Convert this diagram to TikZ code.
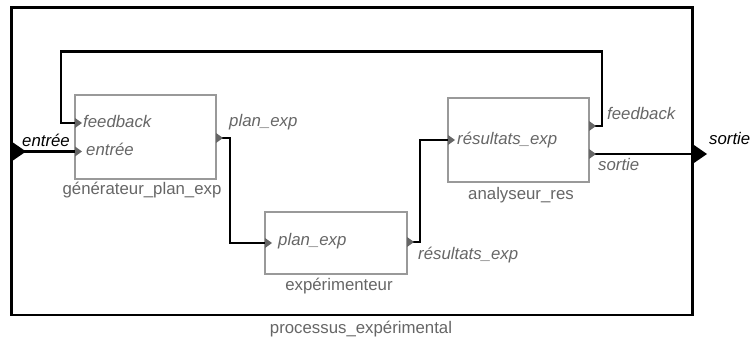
\documentclass[tikz,border=0pt]{standalone}
\usepackage{fontspec}
\setmainfont{Liberation Sans}
\usetikzlibrary{calc}
\definecolor{boxgray}{HTML}{999999}
\definecolor{txtgray}{HTML}{666666}
\begin{document}
\begin{tikzpicture}[x=1pt,y=-1pt,
  blk/.style={draw=boxgray, line width=2.6pt, inner sep=0pt},
  wire/.style={draw=black, line width=2.8pt},
  frame/.style={draw=black, line width=2.5pt},
  plbl/.style={text=txtgray, font=\fontsize{16.8}{20}\selectfont\itshape, inner sep=0pt, anchor=base west},
  blbl/.style={text=txtgray, font=\fontsize{16.8}{20}\selectfont, inner sep=0pt, anchor=base},
  olbl/.style={text=black, font=\fontsize{16.8}{20}\selectfont\itshape, inner sep=0pt},
  porttri/.pic={\fill[txtgray] (0,-5) -- (7,0) -- (0,5) -- cycle;},
  outertri/.pic={\fill[black] (0,-10) -- (14.5,0) -- (0,10) -- cycle;}
]
\useasboundingbox (0,0) rectangle (750,347);

% outer frame
\node[frame, minimum width=681, minimum height=307.5, inner sep=0pt] (proc) at (352,161.25) {};
\node[blbl] (proclbl) at (361,334) {processus\_expérimental};

% blocks
\node[blk, minimum width=141, minimum height=84] (gen) at (145.5,137) {};
\node[blk, minimum width=142, minimum height=62] (exp) at (336,243) {};
\node[blk, minimum width=141, minimum height=84] (ana) at (518.5,140) {};

\node[blbl] (genlbl) at (142,195) {générateur\_plan\_exp};
\node[blbl] (explbl) at (339,291) {expérimenteur};
\node[blbl] (analbl) at (521,200) {analyseur\_res};

% port coordinates
\coordinate (pin) at (11.5,151.5);
\coordinate (pout) at (692.5,154);
\coordinate (genin1) at (75,123);
\coordinate (genin2) at (75,151.5);
\coordinate (genout) at (216,138);
\coordinate (expin) at (265,243);
\coordinate (expout) at (407,242);
\coordinate (anain) at (448,140);
\coordinate (anafb) at (589,126);
\coordinate (anaso) at (589,154);
\coordinate (fbtop) at (61,51.5);

% connectors
\draw[wire] (pin) -- (genin2);
\draw[wire] (genout) -- ($(genout)+(14,0)$) |- (expin);
\draw[wire] (expout) -- ($(expout)+(13,0)$) |- (anain);
\draw[wire] (anafb) -- ($(anafb)+(13,0)$) |- (fbtop) |- (genin1);
\draw[wire] (anaso) -- (pout);

% port triangles
\pic at (genin1) {porttri};
\pic at (genin2) {porttri};
\pic at (genout) {porttri};
\pic at (expin) {porttri};
\pic at (expout) {porttri};
\pic at (anain) {porttri};
\pic at (anafb) {porttri};
\pic at (anaso) {porttri};
\pic at (pin) {outertri};
\pic at (pout) {outertri};

% port labels
\node[plbl] (l1) at (83,127.5) {feedback};
\node[plbl] (l2) at (86,155.5) {entrée};
\node[plbl] (l3) at (229,127) {plan\_exp};
\node[plbl] (l4) at (278,245.5) {plan\_exp};
\node[plbl] (l5) at (418,259.5) {résultats\_exp};
\node[plbl] (l6) at (457,145) {résultats\_exp};
\node[plbl] (l7) at (607,120) {feedback};
\node[plbl] (l8) at (598,170.5) {sortie};
\node[olbl, anchor=base] (oin) at (46,146.5) {entrée};
\node[olbl, anchor=base west] (oout) at (709,145) {sortie};
\end{tikzpicture}
\end{document}
